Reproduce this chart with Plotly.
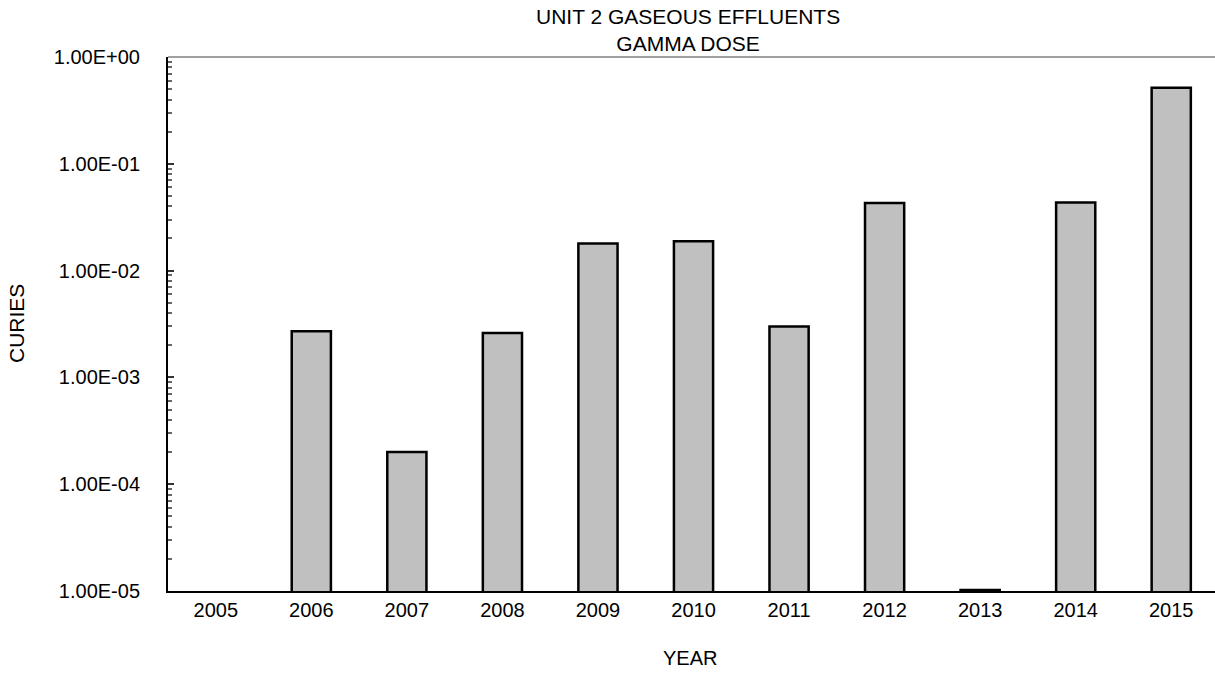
import plotly.graph_objects as go

years = ["2005", "2006", "2007", "2008", "2009", "2010", "2011", "2012", "2013", "2014", "2015"]
curies = [None, 2.70e-3, 2.0e-4, 2.61e-3, 1.79e-2, 1.88e-2, 3.0e-3, 4.3e-2, 1.02e-5, 4.35e-2, 0.516]
ytick_vals = [1e-5, 1e-4, 1e-3, 1e-2, 1e-1, 1e0]
ytick_text = ["1.00E-05", "1.00E-04", "1.00E-03", "1.00E-02", "1.00E-01", "1.00E+00"]
minor_vals = [m * d for d in [1e-5, 1e-4, 1e-3, 1e-2, 1e-1] for m in range(2, 10)]

FONT = "Arial, Liberation Sans, sans-serif"
L, R, T, B = 168, 0, 57, 82
PW = 1215 - L - R
PH = 673 - T - B

fig = go.Figure()
fig.add_trace(go.Bar(
    x=years, y=curies, width=0.41,
    marker=dict(color="#c0c0c0", line=dict(color="black", width=2.5)),
))

fig.update_layout(
    width=1215, height=673,
    margin=dict(l=L, r=R, t=T, b=B, autoexpand=False),
    plot_bgcolor="white", paper_bgcolor="white",
    showlegend=False,
    font=dict(family=FONT, size=20, color="black"),
    xaxis=dict(type="category", range=[-0.5, 10.458], showline=True, linecolor="black",
               linewidth=1.5, ticks="", showgrid=False, tickfont=dict(size=20),
               automargin=False),
    yaxis=dict(type="log", range=[-5, 0], showline=True, linecolor="black", linewidth=2,
               tickvals=ytick_vals, ticktext=ytick_text, ticks="inside", ticklen=6,
               tickcolor="#333", tickwidth=1.5, showgrid=False, tickfont=dict(size=20),
               ticklabelstandoff=22, automargin=False,
               minor=dict(tickvals=minor_vals, ticks="inside", ticklen=4, tickcolor="#666",
                          tickwidth=1.5, showgrid=False)),
    shapes=[dict(type="line", xref="paper", yref="paper", x0=0, x1=1, y0=1, y1=1,
                 line=dict(color="#a0a0a0", width=2))],
    annotations=[
        dict(text="UNIT 2 GASEOUS EFFLUENTS<br>GAMMA DOSE", xref="paper", yref="paper",
             x=(688 - L) / PW, y=1, xanchor="center", yanchor="bottom", yshift=0,
             showarrow=False, font=dict(size=21, family=FONT, color="black")),
        dict(text="CURIES", xref="paper", yref="paper", x=(16 - L) / PW, y=0.5,
             xanchor="center", yanchor="middle", textangle=-90, showarrow=False,
             font=dict(size=21, family=FONT, color="black")),
        dict(text="YEAR", xref="paper", yref="paper", x=(690 - L) / PW, y=0,
             xanchor="center", yanchor="middle", yshift=-(658 - (T + PH)), showarrow=False,
             font=dict(size=20, family=FONT, color="black")),
    ],
)

fig.write_html("out.html", config={"displayModeBar": False},
               post_script="document.body.style.margin='0';document.body.style.overflow='hidden';")
